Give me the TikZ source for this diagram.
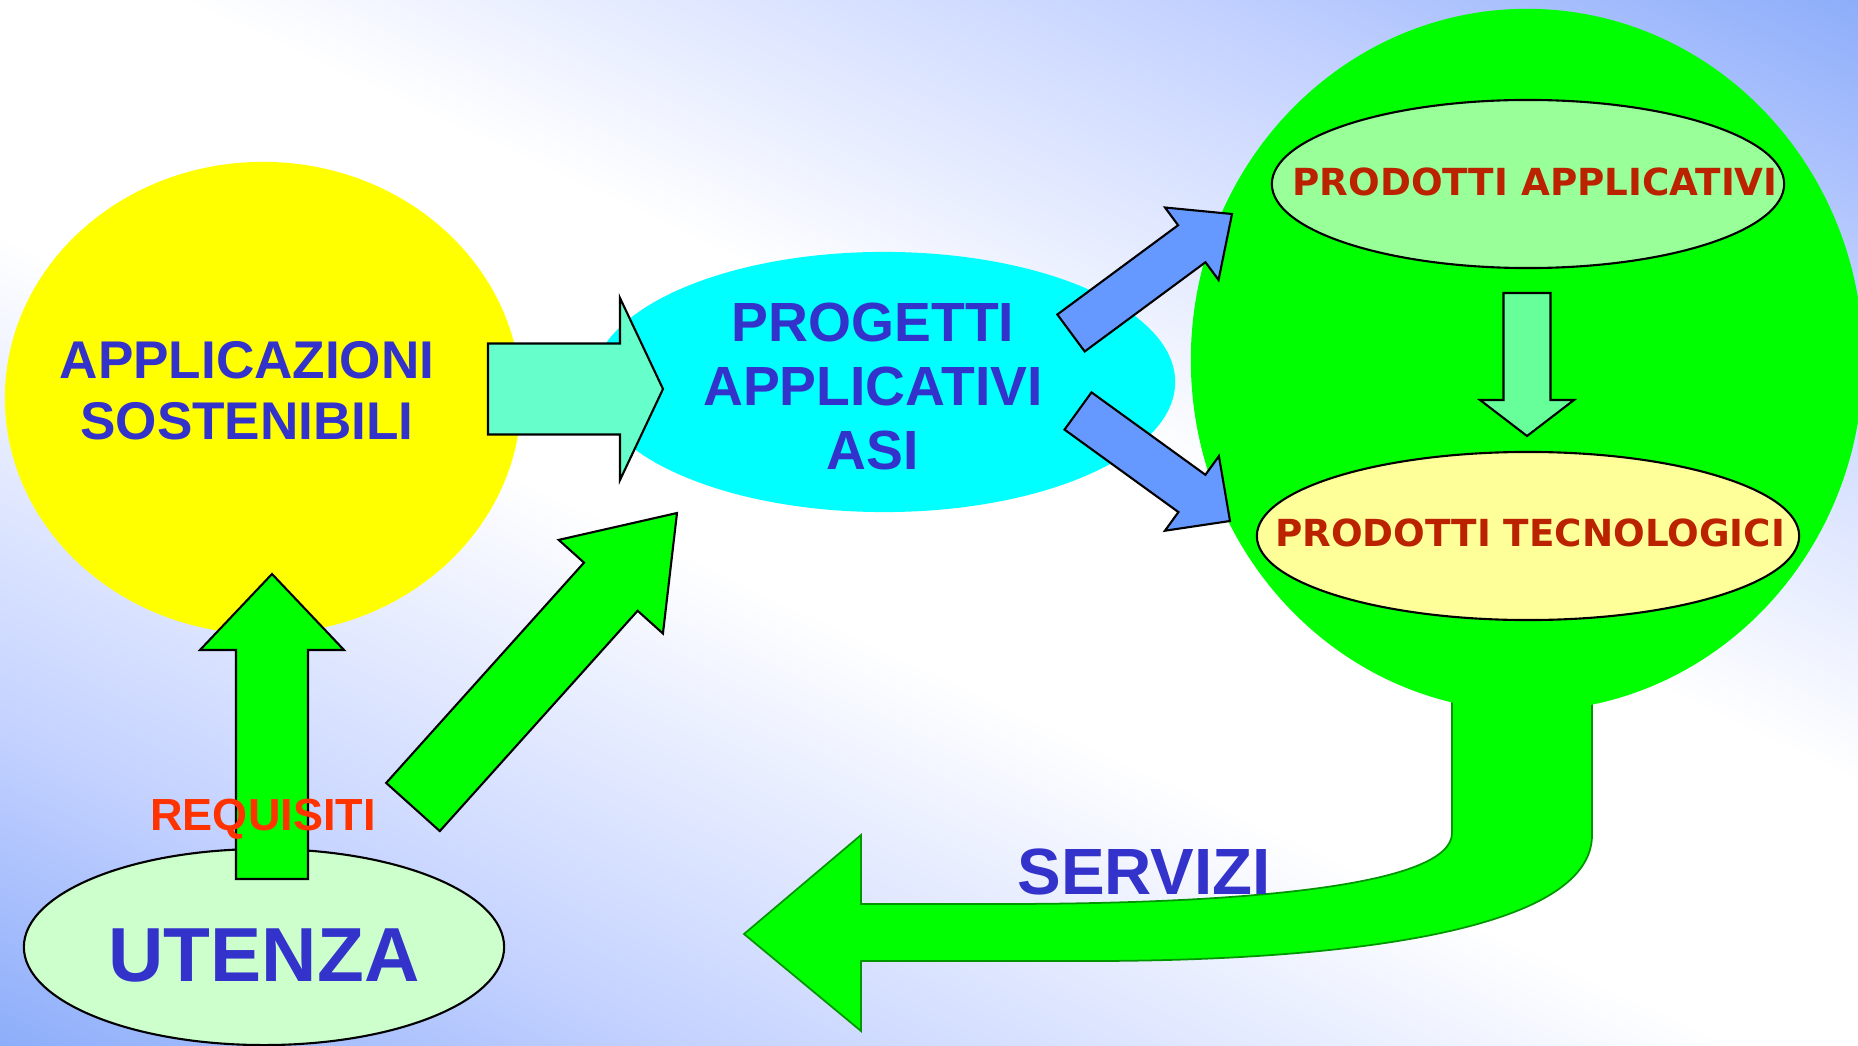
\documentclass[tikz,border=0pt]{standalone}
\usepackage{fontspec}
\setmainfont{Liberation Sans}
\newfontfamily\heavyfont{DejaVu Sans}
\usepackage{tikz}
\usetikzlibrary{shapes.geometric,calc}
\definecolor{txtblue}{RGB}{51,51,204}
\definecolor{txtred}{RGB}{187,34,0}
\definecolor{reqred}{RGB}{255,51,0}
\definecolor{bgblue}{RGB}{118,158,248}
\definecolor{bgmid}{RGB}{196,210,255}
\definecolor{sun}{RGB}{255,255,0}
\definecolor{sky}{RGB}{0,255,255}
\definecolor{lime}{RGB}{0,255,0}
\definecolor{aqua}{RGB}{102,255,204}
\definecolor{mint}{RGB}{102,255,153}
\definecolor{paleg}{RGB}{153,255,153}
\definecolor{palegg}{RGB}{204,255,204}
\definecolor{paley}{RGB}{255,255,153}
\definecolor{arrblue}{RGB}{102,153,255}
\definecolor{darkg}{RGB}{0,150,0}
\pgfdeclareverticalshading{bgfade}{100bp}{color(0bp)=(bgblue); color(12bp)=(bgblue); color(28bp)=(bgmid);
  color(45bp)=(white); color(56bp)=(white); color(72bp)=(bgmid); color(88bp)=(bgblue); color(100bp)=(bgblue)}
\newcommand{\blockarrow}[6]{%
  \coordinate (hb) at ($(#3)!#6!(#2)$);
  \filldraw[#1] ($(#2)!#4!90:(#3)$) -- ($(hb)!#4!90:(#3)$) -- ($(hb)!#5!90:(#3)$) -- (#3)
    -- ($(hb)!#5!-90:(#3)$) -- ($(hb)!#4!-90:(#3)$) -- ($(#2)!#4!-90:(#3)$) -- cycle;}

\begin{document}
\begin{tikzpicture}[x=0.01cm, y=-0.01cm, line join=miter,
  blob/.style={ellipse, inner sep=0pt},
  ring/.style={ellipse, inner sep=0pt, draw=black, line width=0.6pt},
  arr/.style={draw=black, line width=0.6pt},
  lbl/.style={text=txtblue, align=center, inner sep=0pt},
  prod/.style={text=txtred, inner sep=0pt, font=\heavyfont\fontsize{10.6pt}{12pt}\selectfont\bfseries}]
\path[shading=bgfade, shading angle=-25] (0,0) rectangle (1858,1046);
\useasboundingbox (0,0) rectangle (1858,1046);

\node[blob, fill=sun, minimum width=5.16cm, minimum height=4.72cm] (apps) at (263,398) {};
\node[blob, fill=sky, minimum width=5.82cm, minimum height=2.6cm] (proj) at (884,382) {};
\filldraw[fill=lime, draw=darkg, line width=0.5pt] (1452,660) -- (1452,833)
  .. controls (1452,885) and (1250,904) .. (1000,904) -- (861,904) -- (861,835) -- (744,934)
  -- (861,1031) -- (861,961) -- (1100,961) .. controls (1350,960) and (1592,930) .. (1592,835)
  -- (1592,660) -- cycle;
\node[blob, fill=lime, minimum width=6.72cm, minimum height=7.02cm] (prodz) at (1527,360) {};
\node[ring, fill=paleg, minimum width=5.12cm, minimum height=1.68cm] (papp) at (1528,184) {};
\node[ring, fill=paley, minimum width=5.42cm, minimum height=1.68cm] (ptec) at (1528,536) {};
\node[ring, fill=palegg, minimum width=4.8cm, minimum height=1.96cm] (user) at (264,947) {};

\coordinate (a1) at (488,389);  \coordinate (b1) at (663,389);
\coordinate (a2) at (1071,333); \coordinate (b2) at (1232,214);
\coordinate (a3) at (1078,411); \coordinate (b3) at (1230,521);
\coordinate (a4) at (1527,293); \coordinate (b4) at (1527,436);
\coordinate (a5) at (272,879);  \coordinate (b5) at (272,574);
\coordinate (a6) at (413,807);  \coordinate (b6) at (677,513);
\blockarrow{arr, fill=aqua}{a1}{b1}{4.55mm}{9.1mm}{4.3mm}
\blockarrow{arr, fill=arrblue}{a2}{b2}{2.3mm}{4.5mm}{5mm}
\blockarrow{arr, fill=arrblue}{a3}{b3}{2.3mm}{4.6mm}{4.7mm}
\blockarrow{arr, fill=mint}{a4}{b4}{2.35mm}{4.7mm}{3.6mm}
\blockarrow{arr, fill=lime}{a5}{b5}{3.6mm}{7.2mm}{7.6mm}
\blockarrow{arr, fill=lime}{a6}{b6}{3.6mm}{7mm}{9.9mm}

\node[lbl, font=\fontsize{15.1pt}{17.4pt}\selectfont\bfseries] (tapps) at (247,391) {APPLICAZIONI\\SOSTENIBILI};
\node[lbl, font=\fontsize{15.7pt}{18.2pt}\selectfont\bfseries] (tproj) at (873,386) {PROGETTI\\APPLICATIVI\\ASI};
\node[prod] (tpapp) at (1535,182) {PRODOTTI APPLICATIVI};
\node[prod] (tptec) at (1530,533) {PRODOTTI TECNOLOGICI};
\node[lbl, text=reqred, font=\fontsize{12.8pt}{15pt}\selectfont\bfseries] (treq) at (263,819) {REQUISITI};
\node[lbl, font=\fontsize{21.8pt}{25pt}\selectfont\bfseries] (tuser) at (264,955) {UTENZA};
\node[lbl, font=\fontsize{18.6pt}{22pt}\selectfont\bfseries] (tserv) at (1144,872) {SERVIZI};
\end{tikzpicture}
\end{document}
